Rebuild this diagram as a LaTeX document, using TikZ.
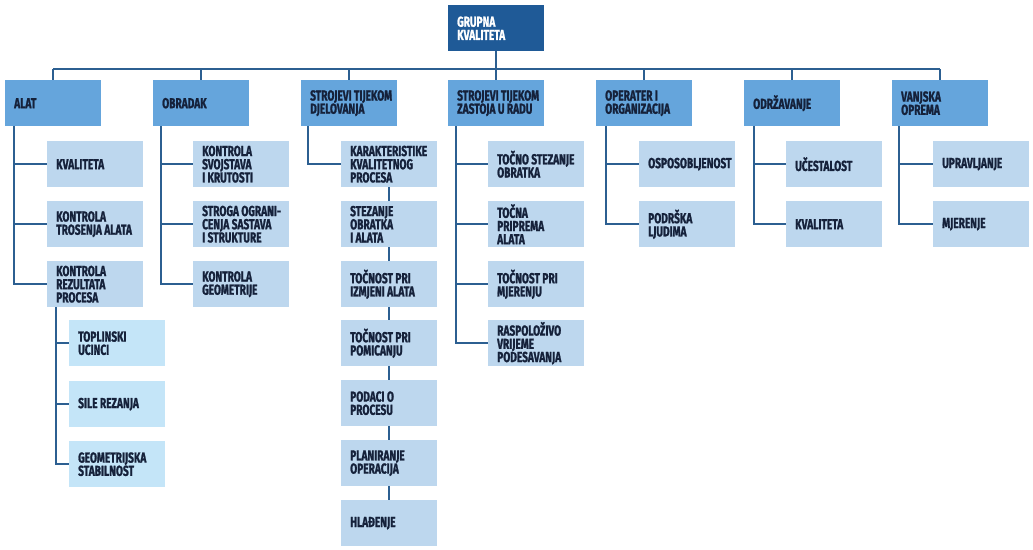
\documentclass[tikz,border=0pt]{standalone}
\usepackage{fontspec}
\setmainfont{Fira Sans}[FakeStretch=0.7, BoldFeatures={FakeBold=1.3}]
\definecolor{rootc}{HTML}{1F5A97}
\definecolor{lvla}{HTML}{65A5DC}
\definecolor{lvlb}{HTML}{BDD7EE}
\definecolor{lvlc}{HTML}{C4E5F8}
\definecolor{linec}{HTML}{2C5F91}
\definecolor{txtc}{HTML}{15213A}
\tikzset{
  boxbase/.style={rectangle, inner sep=0pt, minimum width=96pt, minimum height=46pt},
  rootbox/.style={boxbase, fill=rootc},
  onebox/.style={boxbase, fill=lvla},
  twobox/.style={boxbase, fill=lvlb},
  threebox/.style={boxbase, fill=lvlc},
  txt/.style={inner sep=0pt, align=left, text=txtc, font=\bfseries\fontsize{14.5}{13.2}\selectfont},
  wtxt/.style={txt, text=white},
  conn/.style={draw=linec, line width=1.7pt}
}
\newcommand\bx[6]{%
  \node[#2, anchor=north west] (#1) at (#3,#4) {};
  \node[#6, anchor=west] (#1t) at ([xshift=9pt]#1.west) {#5};}
\begin{document}
\begin{tikzpicture}[x=1pt,y=-1pt]
\useasboundingbox (0,0) rectangle (1033,549);
% root
\bx{root}{rootbox}{448}{5}{GRUPNA\\KVALITETA}{wtxt}
% level 1
\bx{alat}{onebox}{5}{80}{ALAT}{txt}
\bx{obr}{onebox}{153}{80}{OBRADAK}{txt}
\bx{djel}{onebox}{301}{80}{STROJEVI TIJEKOM\\DJELOVANJA}{txt}
\bx{zast}{onebox}{448}{80}{STROJEVI TIJEKOM\\ZASTOJA U RADU}{txt}
\bx{oper}{onebox}{596}{80}{OPERATER I\\ORGANIZACIJA}{txt}
\bx{odrz}{onebox}{744}{80}{ODRŽAVANJE}{txt}
\bx{vanj}{onebox}{892}{80}{VANJSKA\\OPREMA}{txt}
% ALAT children
\bx{a1}{twobox}{47}{141}{KVALITETA}{txt}
\bx{a2}{twobox}{47}{201}{KONTROLA\\TROSENJA ALATA}{txt}
\bx{a3}{twobox}{47}{261}{KONTROLA\\REZULTATA\\PROCESA}{txt}
\bx{g1}{threebox}{69}{320}{TOPLINSKI\\UCINCI}{txt}
\bx{g2}{threebox}{69}{381}{SILE REZANJA}{txt}
\bx{g3}{threebox}{69}{441}{GEOMETRIJSKA\\STABILNOST}{txt}
% OBRADAK children
\bx{b1}{twobox}{193}{141}{KONTROLA\\SVOJSTAVA\\I KRUTOSTI}{txt}
\bx{b2}{twobox}{193}{201}{STROGA OGRANI-\\CENJA SASTAVA\\I STRUKTURE}{txt}
\bx{b3}{twobox}{193}{261}{KONTROLA\\GEOMETRIJE}{txt}
% DJELOVANJA children
\bx{d1}{twobox}{341}{141}{KARAKTERISTIKE\\KVALITETNOG\\PROCESA}{txt}
\bx{d2}{twobox}{341}{201}{STEZANJE\\OBRATKA\\I ALATA}{txt}
\bx{d3}{twobox}{341}{261}{TOČNOST PRI\\IZMJENI ALATA}{txt}
\bx{d4}{twobox}{341}{320}{TOČNOST PRI\\POMICANJU}{txt}
\bx{d5}{twobox}{341}{380}{PODACI O\\PROCESU}{txt}
\bx{d6}{twobox}{341}{440}{PLANIRANJE\\OPERACIJA}{txt}
\bx{d7}{twobox}{341}{500}{HLAĐENJE}{txt}
% ZASTOJA children
\bx{z1}{twobox}{488}{141}{TOČNO STEZANJE\\OBRATKA}{txt}
\bx{z2}{twobox}{488}{201}{TOČNA\\PRIPREMA\\ALATA}{txt}
\bx{z3}{twobox}{488}{261}{TOČNOST PRI\\MJERENJU}{txt}
\bx{z4}{twobox}{488}{320}{RASPOLOŽIVO\\VRIJEME\\PODESAVANJA}{txt}
% OPERATER children
\bx{o1}{twobox}{639}{141}{OSPOSOBLJENOST}{txt}
\bx{o2}{twobox}{639}{201}{PODRŠKA\\LJUDIMA}{txt}
% ODRZAVANJE children
\bx{m1}{twobox}{786}{141}{UČESTALOST}{txt}
\bx{m2}{twobox}{786}{201}{KVALITETA}{txt}
% VANJSKA children
\bx{v1}{twobox}{933}{141}{UPRAVLJANJE}{txt}
\bx{v2}{twobox}{933}{201}{MJERENJE}{txt}
% bus
\coordinate (busy) at (0,69);
\draw[conn] (root.south) -- (root.south |- busy);
\draw[conn] (alat.north |- busy) -- (vanj.north |- busy);
\foreach \n in {alat,obr,djel,zast,oper,odrz,vanj}{
  \draw[conn] (\n.north |- busy) -- (\n.north);
}
% side lines
\coordinate (alatL) at ([xshift=9pt]alat.south west);
\coordinate (obrL) at ([xshift=8pt]obr.south west);
\coordinate (djelL) at ([xshift=7pt]djel.south west);
\coordinate (zastL) at ([xshift=8pt]zast.south west);
\coordinate (operL) at ([xshift=10pt]oper.south west);
\coordinate (odrzL) at ([xshift=10pt]odrz.south west);
\coordinate (vanjL) at ([xshift=7pt]vanj.south west);
\coordinate (a3L) at ([xshift=9pt]a3.south west);
\draw[conn] (alatL) |- (a3.west);
\draw[conn] (alatL |- a1.west) -- (a1.west);
\draw[conn] (alatL |- a2.west) -- (a2.west);
\draw[conn] (a3L) |- (g3.west);
\draw[conn] (a3L |- g1.west) -- (g1.west);
\draw[conn] (a3L |- g2.west) -- (g2.west);
\draw[conn] (obrL) |- (b3.west);
\draw[conn] (obrL |- b1.west) -- (b1.west);
\draw[conn] (obrL |- b2.west) -- (b2.west);
\draw[conn] (djelL) |- (d1.west);
\draw[conn] (d1.south) -- (d2.north);
\draw[conn] (d2.south) -- (d3.north);
\draw[conn] (d3.south) -- (d4.north);
\draw[conn] (d4.south) -- (d5.north);
\draw[conn] (d5.south) -- (d6.north);
\draw[conn] (d6.south) -- (d7.north);
\draw[conn] (zastL) |- (z4.west);
\draw[conn] (zastL |- z1.west) -- (z1.west);
\draw[conn] (zastL |- z2.west) -- (z2.west);
\draw[conn] (zastL |- z3.west) -- (z3.west);
\draw[conn] (operL) |- (o2.west);
\draw[conn] (operL |- o1.west) -- (o1.west);
\draw[conn] (odrzL) |- (m2.west);
\draw[conn] (odrzL |- m1.west) -- (m1.west);
\draw[conn] (vanjL) |- (v2.west);
\draw[conn] (vanjL |- v1.west) -- (v1.west);
\end{tikzpicture}
\end{document}
